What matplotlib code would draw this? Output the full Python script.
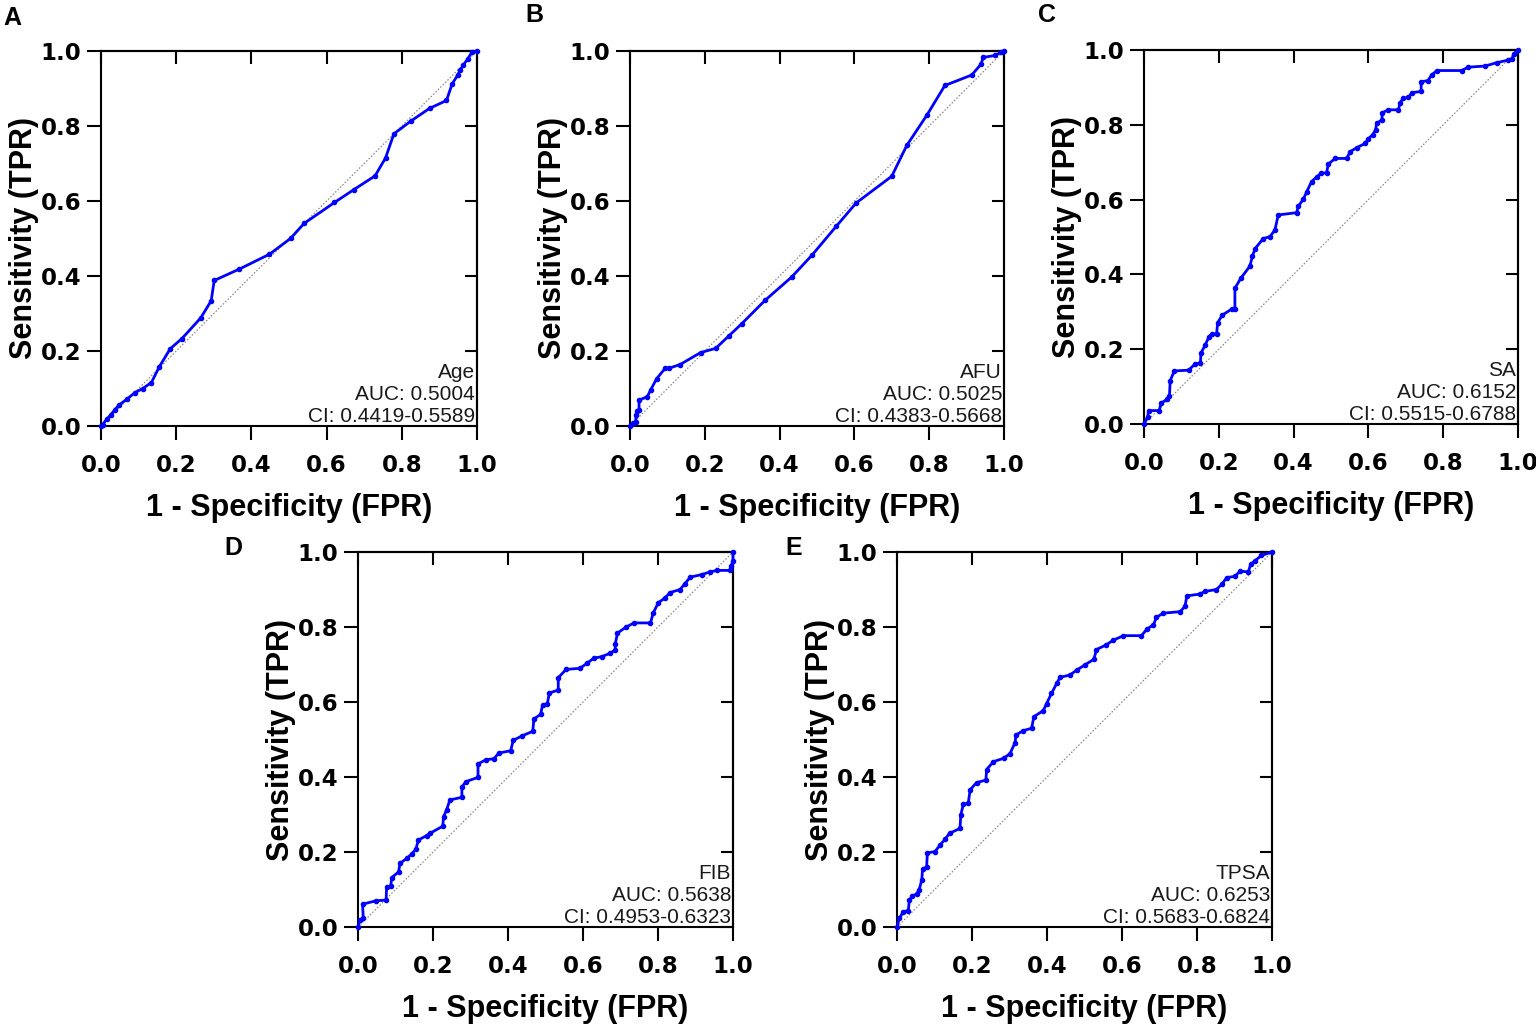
import numpy as np
import matplotlib
matplotlib.use("Agg")
import matplotlib.pyplot as plt

# ROC points (FPR, TPR)
fpr_age = [0, 0.004, 0.015, 0.026, 0.037, 0.048, 0.068, 0.090, 0.111, 0.134, 0.155, 0.184, 0.215,
           0.265, 0.293, 0.301, 0.367, 0.448, 0.504, 0.540, 0.621, 0.672, 0.729, 0.757, 0.779,
           0.824, 0.874, 0.919, 0.934, 0.949, 0.955, 0.964, 0.975, 0.986, 1.0]
tpr_age = [0, 0.004, 0.018, 0.030, 0.044, 0.056, 0.071, 0.089, 0.100, 0.116, 0.158, 0.206, 0.233,
           0.288, 0.334, 0.388, 0.418, 0.458, 0.500, 0.540, 0.596, 0.630, 0.667, 0.715, 0.779,
           0.813, 0.847, 0.868, 0.912, 0.936, 0.948, 0.963, 0.978, 0.996, 1.0]

fpr_afu = [0, 0.009, 0.015, 0.016, 0.018, 0.024, 0.024, 0.046, 0.055, 0.071, 0.094, 0.104, 0.134,
           0.189, 0.229, 0.265, 0.299, 0.361, 0.432, 0.487, 0.551, 0.605, 0.700, 0.740, 0.794,
           0.842, 0.914, 0.938, 0.945, 0.976, 0.991, 1.0]
tpr_afu = [0, 0.007, 0.012, 0.029, 0.041, 0.043, 0.069, 0.078, 0.096, 0.126, 0.154, 0.154, 0.164,
           0.196, 0.207, 0.241, 0.273, 0.335, 0.397, 0.456, 0.532, 0.595, 0.666, 0.748, 0.829,
           0.908, 0.936, 0.964, 0.983, 0.988, 0.996, 1.0]

fpr_sa = [0, 0.010, 0.012, 0.041, 0.045, 0.061, 0.068, 0.070, 0.081, 0.119, 0.136, 0.151, 0.152,
          0.163, 0.174, 0.181, 0.194, 0.197, 0.209, 0.234, 0.243, 0.243, 0.259, 0.283, 0.290,
          0.297, 0.319, 0.337, 0.350, 0.359, 0.408, 0.413, 0.426, 0.435, 0.448, 0.462, 0.473,
          0.488, 0.493, 0.511, 0.542, 0.551, 0.569, 0.591, 0.600, 0.611, 0.619, 0.622, 0.636,
          0.637, 0.653, 0.680, 0.685, 0.693, 0.707, 0.716, 0.741, 0.741, 0.759, 0.769, 0.783,
          0.849, 0.867, 0.912, 0.943, 0.974, 0.985, 0.988, 1.0]
tpr_sa = [0, 0.020, 0.036, 0.036, 0.055, 0.066, 0.075, 0.116, 0.142, 0.144, 0.160, 0.164, 0.189,
          0.210, 0.234, 0.241, 0.241, 0.271, 0.291, 0.307, 0.307, 0.363, 0.390, 0.422, 0.449,
          0.469, 0.496, 0.501, 0.519, 0.559, 0.565, 0.583, 0.601, 0.621, 0.648, 0.661, 0.670,
          0.672, 0.695, 0.710, 0.710, 0.728, 0.739, 0.750, 0.763, 0.773, 0.786, 0.804, 0.813,
          0.832, 0.840, 0.840, 0.859, 0.871, 0.873, 0.886, 0.889, 0.915, 0.918, 0.933, 0.945,
          0.945, 0.954, 0.957, 0.966, 0.973, 0.977, 0.989, 1.0]

fpr_fib = [0, 0.004, 0.014, 0.012, 0.048, 0.075, 0.076, 0.087, 0.090, 0.108, 0.112, 0.130, 0.143,
           0.154, 0.161, 0.183, 0.192, 0.226, 0.228, 0.236, 0.245, 0.277, 0.277, 0.288, 0.320,
           0.320, 0.341, 0.363, 0.375, 0.407, 0.414, 0.436, 0.466, 0.469, 0.487, 0.492, 0.505,
           0.510, 0.534, 0.534, 0.555, 0.592, 0.610, 0.629, 0.650, 0.672, 0.686, 0.686, 0.692,
           0.715, 0.736, 0.780, 0.787, 0.801, 0.818, 0.832, 0.859, 0.872, 0.886, 0.917, 0.939,
           0.957, 0.992, 0.995, 1.0, 1.0]
tpr_fib = [0, 0.019, 0.023, 0.061, 0.070, 0.072, 0.106, 0.109, 0.132, 0.147, 0.170, 0.183, 0.195,
           0.207, 0.232, 0.244, 0.250, 0.269, 0.294, 0.312, 0.339, 0.346, 0.374, 0.388, 0.399,
           0.435, 0.446, 0.449, 0.464, 0.470, 0.498, 0.509, 0.522, 0.555, 0.567, 0.592, 0.596,
           0.624, 0.632, 0.665, 0.687, 0.690, 0.703, 0.717, 0.721, 0.730, 0.739, 0.755, 0.784,
           0.800, 0.811, 0.811, 0.837, 0.865, 0.877, 0.892, 0.900, 0.916, 0.933, 0.940, 0.947,
           0.951, 0.951, 0.963, 0.976, 1.0]

fpr_tpsa = [0, 0.006, 0.017, 0.030, 0.033, 0.041, 0.052, 0.059, 0.066, 0.068, 0.079, 0.081, 0.101,
            0.115, 0.128, 0.140, 0.168, 0.170, 0.177, 0.190, 0.195, 0.212, 0.237, 0.239, 0.257,
            0.284, 0.301, 0.315, 0.317, 0.337, 0.359, 0.365, 0.390, 0.399, 0.412, 0.426, 0.435,
            0.461, 0.479, 0.501, 0.525, 0.532, 0.557, 0.577, 0.604, 0.652, 0.666, 0.684, 0.692,
            0.710, 0.755, 0.768, 0.773, 0.808, 0.821, 0.852, 0.868, 0.879, 0.901, 0.915, 0.937,
            0.943, 0.955, 0.972, 1.0]
tpr_tpsa = [0, 0.023, 0.041, 0.044, 0.072, 0.083, 0.088, 0.100, 0.125, 0.154, 0.161, 0.198, 0.201,
            0.219, 0.234, 0.250, 0.263, 0.299, 0.328, 0.330, 0.366, 0.385, 0.392, 0.420, 0.441,
            0.450, 0.462, 0.492, 0.512, 0.524, 0.530, 0.561, 0.577, 0.596, 0.623, 0.650, 0.666,
            0.672, 0.685, 0.699, 0.714, 0.740, 0.752, 0.765, 0.777, 0.777, 0.794, 0.806, 0.826,
            0.837, 0.841, 0.855, 0.883, 0.888, 0.895, 0.900, 0.916, 0.932, 0.935, 0.949, 0.947,
            0.967, 0.977, 0.991, 1.0]

letters = ["A", "B", "C", "D", "E"]
names = ["Age", "AFU", "SA", "FIB", "TPSA"]
aucs = ["0.5004", "0.5025", "0.6152", "0.5638", "0.6253"]
cis = ["0.4419-0.5589", "0.4383-0.5668", "0.5515-0.6788", "0.4953-0.6323", "0.5683-0.6824"]
fprs = [fpr_age, fpr_afu, fpr_sa, fpr_fib, fpr_tpsa]
tprs = [tpr_age, tpr_afu, tpr_sa, tpr_fib, tpr_tpsa]
ticks = [0.0, 0.2, 0.4, 0.6, 0.8, 1.0]

# axes boxes in figure fractions [left, bottom, width, height]
boxes = [[0.0658, 0.5856, 0.2447, 0.3648],
         [0.4102, 0.5856, 0.2434, 0.3648],
         [0.7448, 0.5875, 0.2435, 0.3639],
         [0.2331, 0.0982, 0.2441, 0.3648],
         [0.5840, 0.0982, 0.2441, 0.3648]]
letter_pos = [(0.002, 0.994), (0.342, 0.997), (0.676, 0.997), (0.146, 0.479), (0.511, 0.479)]

tick_font = {"family": "DejaVu Sans", "weight": "bold", "size": 16.5}
lab_font = {"family": "Liberation Sans", "weight": "bold", "size": 22}

fig = plt.figure(figsize=(15.36, 10.28), dpi=100)

for i in range(5):
    ax = fig.add_axes(boxes[i])
    ax.plot([0, 1], [0, 1], color="#888888", lw=0.9, ls=(0, (1.2, 1.5)), zorder=1)
    ax.plot(fprs[i], tprs[i], color="#0000ff", lw=2.0, marker="o", ms=3.0,
            clip_on=False, zorder=3)
    ax.set_xlim(0, 1)
    ax.set_ylim(0, 1)
    ax.set_xticks(ticks)
    ax.set_yticks(ticks)
    ax.set_xticklabels(["%.1f" % t for t in ticks], fontdict=tick_font)
    ax.set_yticklabels(["%.1f" % t for t in ticks], fontdict=tick_font)
    ax.tick_params(axis="both", direction="out", length=10, width=1.5, color="black")
    ax.tick_params(axis="x", pad=10)
    ax.tick_params(axis="y", pad=4)
    for s in ax.spines.values():
        s.set_linewidth(1.5)
    # mirrored ticks pointing inwards on top and right
    top = ax.secondary_xaxis("top")
    top.set_xticks(ticks)
    top.tick_params(direction="in", length=9, width=1.5, labeltop=False)
    top.spines["top"].set_linewidth(1.5)
    right = ax.secondary_yaxis("right")
    right.set_yticks(ticks)
    right.tick_params(direction="in", length=9, width=1.5, labelright=False)
    right.spines["right"].set_linewidth(1.5)

    ax.set_xlabel("1 - Specificity (FPR)", fontdict=lab_font, labelpad=12)
    ax.set_ylabel("Sensitivity (TPR)", fontdict=lab_font, labelpad=1)

    ax.text(0.995, 0.0, names[i] + "\nAUC: " + aucs[i] + "\nCI: " + cis[i],
            transform=ax.transAxes, ha="right", va="bottom", multialignment="right",
            family="Liberation Sans", fontsize=15, linespacing=1.2, color="#1a1a1a")

    fig.text(letter_pos[i][0], letter_pos[i][1], letters[i], ha="left", va="top",
             family="Liberation Sans", weight="bold", fontsize=18)

fig.savefig("out.png", dpi=100)
